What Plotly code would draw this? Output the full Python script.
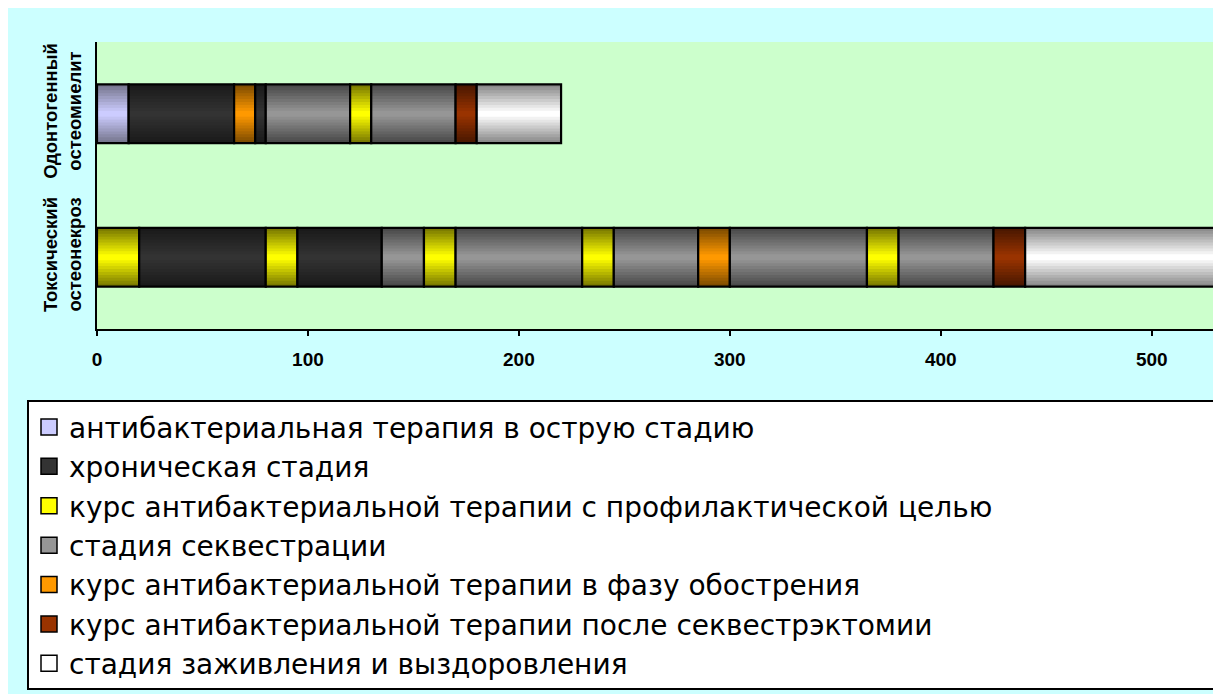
import plotly.graph_objects as go

# ---------------- data ----------------
bar_names = ["Токсический остеонекроз", "Одонтогенный остеомиелит"]
bar_ticktext = ["Токсический<br>остеонекроз", "Одонтогенный<br>остеомиелит"]

stage_names = [
    "антибактериальная терапия в острую стадию",
    "хроническая стадия",
    "курс антибактериальной терапии с профилактической целью",
    "стадия секвестрации",
    "курс антибактериальной терапии в фазу обострения",
    "курс антибактериальной терапии после секвестрэктомии",
    "стадия заживления и выздоровления",
]
# centre colour / edge colour of the cylinder-like gradient
stage_center = ["#CCCCFF", "#333333", "#FFFF00", "#969696", "#FF9900", "#993300", "#FFFFFF"]
stage_edge = ["#77778F", "#1A1A1A", "#7A7A00", "#4A4A4A", "#7F4C00", "#4A1800", "#8A8A8A"]

# sequence of stages (index into stage_names) and their durations for each bar
toxic_stages = [2, 1, 2, 1, 3, 2, 3, 2, 3, 4, 3, 2, 3, 5, 6]
toxic_days = [20, 60, 15, 40, 20, 15, 60, 15, 40, 15, 65, 15, 45, 15, 90]

odonto_stages = [0, 1, 4, 1, 3, 2, 3, 5, 6]
odonto_days = [15, 50, 10, 5, 40, 10, 40, 10, 40]

x_ticks = [0, 100, 200, 300, 400, 500]
x_max = 530

# ---------------- helpers ----------------
def hex_to_rgb(h):
    h = h.lstrip("#")
    return tuple(int(h[i:i + 2], 16) for i in (0, 2, 4))


def mix(c1, c2, t):
    a, b = hex_to_rgb(c1), hex_to_rgb(c2)
    return "rgb(%d,%d,%d)" % tuple(round(a[i] + (b[i] - a[i]) * t) for i in range(3))


FONT = "Arial, 'Liberation Sans', sans-serif"
LEG_FONT = "'DejaVu Sans', Arial, sans-serif"
BAR_W = 0.41
N_LAYERS = 10

fig = go.Figure()

series = [(0, toxic_stages, toxic_days), (1, odonto_stages, odonto_days)]
for ycat, stages, days in series:
    start = 0
    for st, d in zip(stages, days):
        # gradient layers: outer (dark) to inner (light)
        for k in range(N_LAYERS):
            w = BAR_W * (N_LAYERS - k) / N_LAYERS
            col = mix(stage_edge[st], stage_center[st], k / (N_LAYERS - 1))
            fig.add_trace(go.Bar(
                y=[ycat], x=[d], base=[start], width=[w], orientation="h",
                marker=dict(color=col, line=dict(width=0)),
                legendgroup=stage_names[st], showlegend=False, hoverinfo="skip",
            ))
        # outline
        fig.add_trace(go.Bar(
            y=[ycat], x=[d], base=[start], width=[BAR_W], orientation="h",
            marker=dict(color="rgba(0,0,0,0)", line=dict(color="black", width=2.2)),
            legendgroup=stage_names[st], showlegend=False,
            name=stage_names[st],
            hovertemplate="%{x}<extra>" + stage_names[st] + "</extra>",
        ))
        start += d

# legend entries
for i, nm in enumerate(stage_names):
    fig.add_trace(go.Scatter(
        x=[None], y=[None], mode="markers", name=nm, legendgroup=nm,
        legendrank=i + 1,
        marker=dict(symbol="square", size=16, color=stage_center[i],
                    line=dict(color="black", width=1.5)),
    ))

L, R, T, B = 89, 14, 34, 370
W, H = 1221, 694
pw, ph = W - L - R, H - T - B

fig.update_layout(
    width=W, height=H,
    margin=dict(l=L, r=R, t=T, b=B, pad=0),
    barmode="overlay",
    paper_bgcolor="#CCFFFF",
    plot_bgcolor="#CCFFCC",
    font=dict(family=FONT, color="black"),
    showlegend=True,
    legend=dict(
        orientation="h",
        entrywidth=1150, entrywidthmode="pixels",
        x=(19 - L) / pw, y=(T + ph - 396) / ph, xanchor="left", yanchor="top",
        bgcolor="white", bordercolor="black", borderwidth=2,
        font=dict(family=LEG_FONT, size=28, color="black"),
        traceorder="normal", itemsizing="trace",
    ),
    xaxis=dict(
        range=[0, x_max], tickvals=x_ticks, ticktext=[str(v) for v in x_ticks],
        showgrid=False, zeroline=False,
        showline=True, linecolor="black", linewidth=2,
        ticks="outside", ticklen=5, tickwidth=2, tickcolor="black",
        tickfont=dict(family=FONT, size=19, color="black", weight="bold"),
        ticklabelstandoff=7,
    ),
    yaxis=dict(
        range=[-0.5, 1.5], tickvals=[0, 1], ticktext=bar_ticktext,
        tickangle=-90,
        showgrid=False, zeroline=False,
        showline=True, linecolor="black", linewidth=2,
        ticks="",
        tickfont=dict(family=FONT, size=18.5, color="black", weight="bold"),
        ticklabelstandoff=7,
    ),
)

fig.write_html("out.html")
